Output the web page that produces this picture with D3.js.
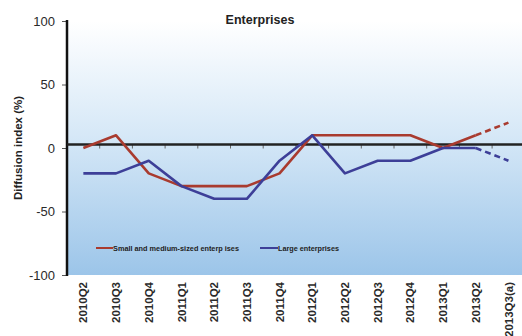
<!DOCTYPE html>
<html>
<head>
<meta charset="utf-8">
<script src="https://cdn.jsdelivr.net/npm/d3@7/dist/d3.min.js"></script>
<style>
  html, body { margin: 0; padding: 0; background: #fff; overflow: hidden; }
  svg { display: block; font-family: "Liberation Sans", Arial, sans-serif; }
</style>
</head>
<body>
<svg id="chart" width="522" height="336"></svg>
<script>
// Quarterly diffusion index for enterprises (%); the last quarter is an estimate.
const quarters = ["2010Q2","2010Q3","2010Q4","2011Q1","2011Q2","2011Q3","2011Q4",
                  "2012Q1","2012Q2","2012Q3","2012Q4","2013Q1","2013Q2","2013Q3(a)"];
const smeValues   = [0, 10, -20, -30, -30, -30, -20, 10, 10, 10, 10, 0, 10, 20];
const largeValues = [-20, -20, -10, -30, -40, -40, -10, 10, -20, -10, -10, 0, 0, -10];
const yTicks = [100, 50, 0, -50, -100];
const seriesNames = ["Small and medium-sized enterp ises", "Large enterprises"];
const seriesColors = ["#a93b2f", "#3d3f98"];
const estimatedFrom = 12; // index where the estimate (dashed) segment begins

const svg = d3.select("#chart");
const plotLeft = 67, plotTop = 21, plotBottom = 275;
const step = 32.7;

const x = d3.scaleBand().domain(quarters).range([plotLeft, plotLeft + step * quarters.length]).padding(0);
const cx = d => x(d) + x.bandwidth() / 2;
const y = d3.scaleLinear().domain([-100, 100]).range([plotBottom, plotTop]);

// background gradient
const defs = svg.append("defs");
const grad = defs.append("linearGradient").attr("id", "bg").attr("x1", 0).attr("y1", 0).attr("x2", 0).attr("y2", 1);
grad.append("stop").attr("offset", "0%").attr("stop-color", "#ffffff");
grad.append("stop").attr("offset", "45%").attr("stop-color", "#d6e8f7");
grad.append("stop").attr("offset", "100%").attr("stop-color", "#9cc5e9");

svg.append("rect")
  .attr("x", plotLeft).attr("y", plotTop)
  .attr("width", 522 - plotLeft).attr("height", plotBottom - plotTop)
  .attr("fill", "url(#bg)");

// title
svg.append("text")
  .attr("x", 260).attr("y", 23.5)
  .attr("text-anchor", "middle")
  .attr("font-size", 12.5).attr("font-weight", "bold").attr("fill", "#222")
  .text("Enterprises");

// y axis (plain hyphen for negative labels)
const yAxis = d3.axisLeft(y).tickValues(yTicks).tickFormat(d => String(d)).tickSize(5).tickPadding(7);
const gy = svg.append("g").attr("transform", `translate(${plotLeft},0)`).call(yAxis);
gy.select(".domain").remove();
gy.selectAll(".tick line").attr("stroke", "#555");
gy.selectAll(".tick text").attr("font-size", 13).attr("fill", "#2a2a2a")
  .attr("font-family", "'Liberation Sans', Arial, sans-serif");
svg.append("line")
  .attr("x1", plotLeft).attr("x2", plotLeft)
  .attr("y1", plotTop - 1).attr("y2", plotBottom + 1)
  .attr("stroke", "#111").attr("stroke-width", 2.5);

// y title
svg.append("text")
  .attr("transform", `translate(22,${(plotTop + plotBottom) / 2}) rotate(-90)`)
  .attr("text-anchor", "middle")
  .attr("font-size", 11.5).attr("font-weight", "bold").attr("fill", "#222")
  .text("Diffusion index (%)");

// zero reference line with category boundary ticks
const zeroY = y(0) - 3.5;
const boundaries = quarters.slice(1).map(q => x(q));
svg.append("g").selectAll("line").data(boundaries).join("line")
  .attr("x1", d => d).attr("x2", d => d)
  .attr("y1", zeroY).attr("y2", zeroY + 4)
  .attr("stroke", "#666").attr("stroke-width", 1);
svg.append("line")
  .attr("x1", plotLeft).attr("x2", 522)
  .attr("y1", zeroY).attr("y2", zeroY)
  .attr("stroke", "#222").attr("stroke-width", 2.5);

// x labels
const xAxis = d3.axisBottom(x).tickSize(0).tickPadding(0);
const gx = svg.append("g").attr("transform", `translate(0,${plotBottom})`).call(xAxis);
gx.select(".domain").remove();
gx.selectAll(".tick text")
  .attr("transform", "rotate(-90)")
  .attr("x", -7).attr("y", 0).attr("dy", "0.36em")
  .attr("text-anchor", "end")
  .attr("font-size", 11.5).attr("font-weight", "bold").attr("fill", "#2a2a2a")
  .attr("font-family", "'Liberation Sans', Arial, sans-serif");

// series lines: solid for observed, dashed for the estimate
const line = d3.line().x(d => cx(d.q)).y(d => y(d.v));
[smeValues, largeValues].forEach((vals, i) => {
  const pts = vals.map((v, j) => ({ q: quarters[j], v }));
  svg.append("path")
    .datum(pts.slice(0, estimatedFrom + 1))
    .attr("d", line).attr("fill", "none")
    .attr("stroke", seriesColors[i]).attr("stroke-width", 2.6)
    .attr("stroke-linejoin", "round");
  svg.append("path")
    .datum(pts.slice(estimatedFrom))
    .attr("d", line).attr("fill", "none")
    .attr("stroke", seriesColors[i]).attr("stroke-width", 2.6)
    .attr("stroke-dasharray", "6,4");
});

// legend
const legendY = 248;
const legendItems = [
  { x1: 96, x2: 113, textLen: 126 },
  { x1: 260, x2: 278, textLen: 61 }
];
legendItems.forEach((it, i) => {
  svg.append("line")
    .attr("x1", it.x1).attr("x2", it.x2)
    .attr("y1", legendY).attr("y2", legendY)
    .attr("stroke", seriesColors[i]).attr("stroke-width", 2);
  svg.append("text")
    .attr("x", it.x2).attr("y", legendY + 2.5)
    .attr("font-size", 7).attr("font-weight", "bold").attr("fill", "#222")
    .attr("textLength", it.textLen).attr("lengthAdjust", "spacingAndGlyphs")
    .text(seriesNames[i]);
});
</script>
</body>
</html>
